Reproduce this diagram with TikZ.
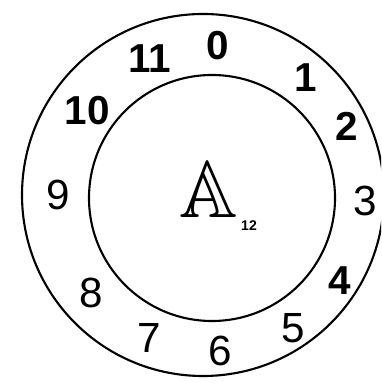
\documentclass[tikz,border=0pt]{standalone}
\usepackage{amssymb}
\usepackage{fontspec}
\setsansfont{Liberation Sans}
\usetikzlibrary{calc}
\tikzset{
  ring/.style={line width=1.2pt},
  digit/.style={font=\sffamily\fontsize{24}{28}\selectfont, inner sep=0pt},
  digitb/.style={digit, font=\sffamily\bfseries\fontsize{23}{28}\selectfont}
}
\begin{document}
\begin{tikzpicture}
    \useasboundingbox (0,0) rectangle (7.62,7.66);
    \clip (0,0) rectangle (7.62,7.66);
    % Kreise
    \coordinate (mid) at (4.24,3.70);
    \draw[ring] (4.06,3.76) circle (3.62);
    \draw[ring] (mid) circle (2.46);
    
    % Restklassen
    \foreach \n/\a in {3/-1, 5/-58, 6/-87, 7/-114, 8/-142, 9/179}
        \node[digit] (n\n) at ($(mid)+(\a:3.07)$) {\n};
    \foreach \n/\a in {0/88, 1/52, 2/28, 4/-33, 10/145, 11/114}
        \node[digitb] (n\n) at ($(mid)+(\a:3.05)$) {\n};
    
    % Ring
    \node[font=\fontsize{46}{50}\selectfont] (ring) at (4.18,3.86) {$\mathbb{A}$};
    \node[font=\sffamily\bfseries\footnotesize, anchor=north west, inner sep=0pt] (idx) at ([xshift=-2pt,yshift=2pt]ring.south east) {12};
\end{tikzpicture}
\end{document}
